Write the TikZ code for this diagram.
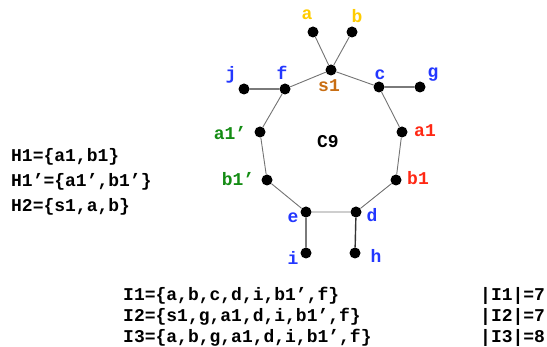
\documentclass[tikz,border=0pt]{standalone}
\usepackage{fontspec}
\setmonofont{Liberation Mono}
\begin{document}
\begin{tikzpicture}[x=1pt,y=-1pt,
  vtx/.style={circle,fill=black,inner sep=0pt,minimum size=11pt},
  cyc/.style={draw=black!55,line width=0.9pt},
  pend/.style={draw=black!80,line width=1.4pt},
  lbl/.style={inner sep=0pt,anchor=base,font=\ttfamily\bfseries\fontsize{18}{20}\selectfont},
  txt/.style={inner sep=0pt,anchor=base west,font=\ttfamily\bfseries\fontsize{18}{20}\selectfont}]
\definecolor{cyel}{RGB}{255,204,0}
\definecolor{cbrown}{RGB}{200,110,20}
\definecolor{cblue}{RGB}{35,55,255}
\definecolor{cgreen}{RGB}{20,140,20}
\definecolor{cred}{RGB}{255,40,20}
\useasboundingbox (0,0) rectangle (547,347);
% vertices
\node[vtx] (a) at (313,32) {};
\node[vtx] (b) at (352,32) {};
\node[vtx] (s1) at (331,70) {};
\node[vtx] (f) at (285,89) {};
\node[vtx] (j) at (244,89) {};
\node[vtx] (c) at (379,87) {};
\node[vtx] (g) at (420,87) {};
\node[vtx] (a1p) at (260,132) {};
\node[vtx] (a1) at (402,132) {};
\node[vtx] (b1p) at (267,180) {};
\node[vtx] (b1) at (396,180) {};
\node[vtx] (e) at (306,212) {};
\node[vtx] (d) at (356,212) {};
\node[vtx] (i) at (306,253) {};
\node[vtx] (h) at (355,253) {};
% edges
\path[cyc] (s1) -- (a) (s1) -- (b);
\path[cyc] (s1) -- (c) -- (a1) -- (b1) -- (d) -- (e) -- (b1p) -- (a1p) -- (f) -- (s1);
\path[pend] (j) -- (f) (c) -- (g) (e) -- (i) (d) -- (h);
% labels
\node[lbl,text=cyel] (la) at (307,20) {a};
\node[lbl,text=cyel] (lb) at (357,23) {b};
\node[lbl,text=cblue] (lj) at (231,80) {j};
\node[lbl,text=cblue] (lf) at (282,80) {f};
\node[lbl,text=cbrown] (ls1) at (329,92) {s1};
\node[lbl,text=cblue] (lc) at (380,80) {c};
\node[lbl,text=cblue] (lg) at (433,78) {g};
\node[lbl,text=cgreen] (la1p) at (230,140) {a1’};
\node[lbl,text=cred] (la1) at (425,137) {a1};
\node[lbl] (lc9) at (328,148) {C9};
\node[lbl,text=cgreen] (lb1p) at (238,186) {b1’};
\node[lbl,text=cred] (lb1) at (418,185) {b1};
\node[lbl,text=cblue] (le) at (293,223) {e};
\node[lbl,text=cblue] (ld) at (372,222) {d};
\node[lbl,text=cblue] (li) at (293,265) {i};
\node[lbl,text=cblue] (lh) at (376,263) {h};
% text
\node[txt] (h1) at (11,162) {H1=\{a1,b1\}};
\node[txt] (h1p) at (11,187) {H1’=\{a1’,b1’\}};
\node[txt] (h2) at (11,212) {H2=\{s1,a,b\}};
\node[txt] (i1) at (123,301) {I1=\{a,b,c,d,i,b1’,f\}};
\node[txt] (i2) at (123,322) {I2=\{s1,g,a1,d,i,b1’,f\}};
\node[txt] (i3) at (123,343) {I3=\{a,b,g,a1,d,i,b1’,f\}};
\node[txt] (n1) at (480,301) {|I1|=7};
\node[txt] (n2) at (480,322) {|I2|=7};
\node[txt] (n3) at (480,343) {|I3|=8};
\end{tikzpicture}
\end{document}
